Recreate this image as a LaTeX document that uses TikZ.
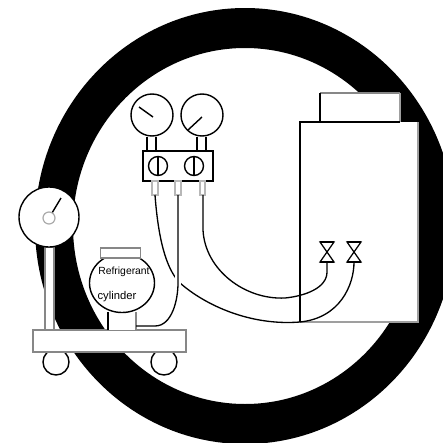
\documentclass[tikz,border=0pt]{standalone}
\usepackage{fontspec}
\setmainfont{Liberation Sans}
\usetikzlibrary{positioning, shapes.geometric}
\definecolor{LineGray}{RGB}{135, 135, 135}

\tikzset{
  dial/.style={circle, draw, line width=0.8pt, fill=white, minimum size=42*0.02cm, inner sep=0pt},
  knob/.style={circle, draw, line width=0.8pt, fill=white, minimum size=19*0.02cm, inner sep=0pt},
  wheel/.style={circle, draw, line width=0.8pt, fill=white, minimum size=26*0.02cm, inner sep=0pt},
  hose/.style={line width=0.75pt},
  bar/.style={line width=0.8pt},
  graybar/.style={line width=0.8pt, draw=LineGray},
  widegray/.style={line width=1.6pt, draw=LineGray!80},
  outlet/.style={line width=0.6pt, draw=LineGray!60},
  label/.style={font=\fontsize{5.9}{7}\selectfont, inner sep=0pt},
  valve/.pic={
    \draw[line width=0.7pt, fill=white] (-7,-10) -- (7,-10) -- (-7,10) -- (7,10) -- cycle;
    \draw[line width=1pt] (-7,-10) -- (7,-10);
    \draw[line width=1pt] (-7,10) -- (7,10);
  }
}

\begin{document}
\begin{tikzpicture}[x=0.02cm, y=-0.02cm]
    \useasboundingbox (0,0) rectangle (443,443);

    % Ring
    \begin{scope}
      \clip (0,0) rectangle (443,443);
      \fill[even odd rule] (245,226) ellipse [x radius=210, y radius=218]
        (245,226) ellipse [x radius=172, y radius=178];
    \end{scope}

    % Unit
    \fill[white] (320,93) rectangle (400,122);
    \draw[graybar] (320,93) -- (400,93);
    \draw[widegray] (400,93) -- (400,122);
    \draw[bar] (320,122) -- (320,93);
    \fill[white] (300,122) rectangle (418,322);
    \draw[widegray] (418,122) -- (418,322) -- (300,322);
    \draw[bar] (300,322) -- (300,122) -- (400,122);

    % Scale
    \draw[graybar, fill=white] (45,247) rectangle (54,330);
    \node[wheel] (wheelL) at (56,362) {};
    \node[wheel] (wheelR) at (164,362) {};
    \node[draw=LineGray, line width=1pt, fill=white, minimum width=153*0.02cm, minimum height=22*0.02cm, inner sep=0pt] (platform) at (109.5,341) {};
    \node[dial, minimum size=60*0.02cm] (scaleDial) at (49,217) {};
    \node[draw=LineGray!70, line width=0.7pt, circle, minimum size=12*0.02cm, inner sep=0pt] (scaleHub) at (49,218) {};
    \draw[bar] (scaleHub) -- (61,198);

    % Cylinder
    \fill[white] (108,312) rectangle (136,330);
    \draw[bar] (108,312) -- (108,330);
    \draw[graybar] (136,312) -- (136,330);
    \node[draw, line width=0.8pt, fill=white, ellipse, minimum width=65*0.02cm, minimum height=59*0.02cm, inner sep=0pt] (cylinder) at (122,283) {};
    \node[draw=LineGray, line width=0.9pt, fill=white, minimum width=40*0.02cm, minimum height=10*0.02cm, inner sep=0pt] (cap) at (120.5,253) {};
    \node[label] (textA) at (124,272) {Refrigerant};
    \node[label, font=\fontsize{6.4}{7}\selectfont] (textB) at (117,297) {cylinder};

    % Manifold
    \draw[bar] (147,137) -- (147,151) (156,137) -- (156,151) (197,137) -- (197,151) (206,137) -- (206,151);
    \node[dial] (gaugeL) at (152,115) {};
    \node[dial] (gaugeR) at (202,115) {};
    \draw[bar] (139,107) -- (153,117);
    \draw[bar] (188,130) -- (202,117);
    \node[draw, line width=1pt, fill=white, minimum width=70*0.02cm, minimum height=30*0.02cm, inner sep=0pt] (block) at (178,166) {};
    \node[knob] (knobL) at (158,166) {};
    \node[knob] (knobR) at (194,166) {};
    \draw[bar] (knobL.north) -- (knobL.south);
    \draw[bar] (knobR.north) -- (knobR.south);
    \draw[outlet] (152,181) rectangle (158,195);
    \draw[outlet] (175,181) rectangle (181,195);
    \draw[outlet] (200,181) rectangle (205,195);

    % Valves
    \pic at (327,252) {valve};
    \pic at (354,252) {valve};
    \coordinate (valveL) at (327,262);
    \coordinate (valveR) at (354,262);

    % Hoses
    \coordinate (hoseA) at (155,195);
    \coordinate (hoseB) at (178,195);
    \coordinate (hoseC) at (203,195);
    \draw[hose] (hoseA) .. controls (158,235) and (165,268) .. (180,283)
      .. controls (205,305) and (250,326) .. (300,322)
      .. controls (340,318) and (354,285) .. (valveR);
    \draw[hose] (hoseC) -- (203,230) .. controls (205,270) and (245,300) .. (285,298)
      .. controls (305,296) and (327,288) .. (327,272) -- (valveL);
    \draw[white, line width=3pt] (178,268) -- (178,290);
    \draw[hose] (hoseB) -- (178,283) .. controls (178,300) and (172,326) .. (155,326) -- (136,326);
\end{tikzpicture}
\end{document}
